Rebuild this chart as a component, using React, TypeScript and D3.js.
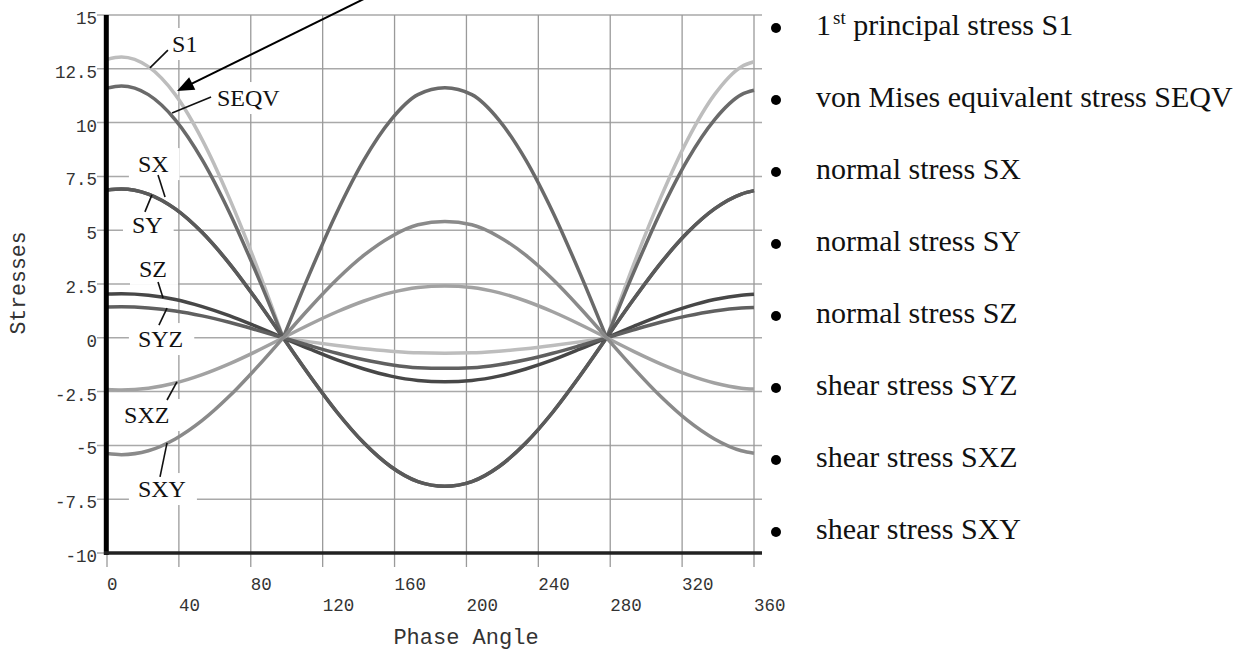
import React, { useEffect, useRef } from "react";
import * as d3 from "d3";

// phase angle samples (deg)
const phaseAngles = [0, 8, 23, 38, 53, 68, 83, 98, 113, 128, 143, 158, 173, 188, 203, 218, 233, 248, 263, 278, 293, 308, 323, 338, 353, 360];

const s1 = [12.94, 13.05, 12.6, 11.3, 9.2, 6.5, 3.4, 0, -0.19, -0.36, -0.51, -0.62, -0.7, -0.72, -0.7, -0.62, -0.51, -0.36, -0.19, 0, 3.4, 6.5, 9.2, 11.3, 12.6, 12.83];
const seqv = [11.6, 11.7, 11.3, 10.13, 8.27, 5.85, 3.03, 0, 3.03, 5.85, 8.27, 10.13, 11.3, 11.62, 11.3, 10.13, 8.27, 5.85, 3.03, 0, 3.03, 5.85, 8.27, 10.13, 11.3, 11.5];
const sx = [6.87, 6.92, 6.68, 5.99, 4.89, 3.46, 1.79, 0, -1.79, -3.46, -4.89, -5.99, -6.68, -6.9, -6.68, -5.99, -4.89, -3.46, -1.79, 0, 1.79, 3.46, 4.89, 5.99, 6.68, 6.84];
const sy = [6.87, 6.92, 6.68, 5.99, 4.89, 3.46, 1.79, 0, -1.79, -3.46, -4.89, -5.99, -6.68, -6.9, -6.68, -5.99, -4.89, -3.46, -1.79, 0, 1.79, 3.46, 4.89, 5.99, 6.68, 6.84];
const sz = [2.03, 2.05, 1.98, 1.78, 1.45, 1.03, 0.53, 0, -0.53, -1.03, -1.45, -1.78, -1.98, -2.04, -1.98, -1.78, -1.45, -1.03, -0.53, 0, 0.53, 1.03, 1.45, 1.78, 1.98, 2.02];
const syz = [1.43, 1.44, 1.39, 1.25, 1.02, 0.72, 0.37, 0, -0.37, -0.72, -1.02, -1.25, -1.39, -1.42, -1.39, -1.25, -1.02, -0.72, -0.37, 0, 0.37, 0.72, 1.02, 1.25, 1.39, 1.41];
const sxz = [-2.4, -2.42, -2.34, -2.1, -1.71, -1.21, -0.63, 0, 0.63, 1.21, 1.71, 2.1, 2.34, 2.41, 2.34, 2.1, 1.71, 1.21, 0.63, 0, -0.63, -1.21, -1.71, -2.1, -2.34, -2.38];
const sxy = [-5.38, -5.43, -5.25, -4.7, -3.84, -2.72, -1.41, 0, 1.41, 2.72, 3.84, 4.7, 5.25, 5.4, 5.25, 4.7, 3.84, 2.72, 1.41, 0, -1.41, -2.72, -3.84, -4.7, -5.25, -5.36];

const seriesNames = ["S1", "SEQV", "SX", "SY", "SZ", "SYZ", "SXZ", "SXY"];
const seriesValues = [s1, seqv, sx, sy, sz, syz, sxz, sxy];

const yTicks = [15, 12.5, 10, 7.5, 5, 2.5, 0, -2.5, -5, -7.5, -10];
const xTicks = [0, 40, 80, 120, 160, 200, 240, 280, 320, 360];

const legendLabels = [
  "principal stress S1",
  "von Mises equivalent stress SEQV",
  "normal stress SX",
  "normal stress SY",
  "normal stress SZ",
  "shear stress SYZ",
  "shear stress SXZ",
  "shear stress SXY",
];

const App = () => {
  const svgRef = useRef<SVGSVGElement>(null);

  useEffect(() => {
    const svg = d3.select(svgRef.current);
    svg.selectAll("*").remove();

    const left = 107, right = 754, top = 15, bottom = 553;
    const xScale = d3.scaleLinear().domain([0, 360]).range([left, right]);
    const yScale = d3.scaleLinear().domain([-10, 15]).range([bottom, top]);

    const colors: Record<string, string> = {
      S1: "#bdbdbd",
      SEQV: "#6a6a6a",
      SX: "#5a5a5a",
      SY: "#5a5a5a",
      SZ: "#474747",
      SYZ: "#606060",
      SXZ: "#a2a2a2",
      SXY: "#8a8a8a",
    };

    const monoFont = "'Liberation Mono', 'DejaVu Sans Mono', monospace";
    const serifFont = "'Liberation Serif', 'DejaVu Serif', serif";

    const gGrid = svg.append("g");
    const gBoxes = svg.append("g");
    const gCurves = svg.append("g");
    const gNotes = svg.append("g");
    const gAxes = svg.append("g");

    // grid lines
    gGrid.selectAll("line.h").data(yTicks).join("line")
      .attr("class", "h")
      .attr("x1", left - 10).attr("x2", right + 8)
      .attr("y1", (d) => yScale(d)).attr("y2", (d) => yScale(d))
      .attr("stroke", "#a9a9a9").attr("stroke-width", 1.5);
    gGrid.selectAll("line.v").data(xTicks).join("line")
      .attr("class", "v")
      .attr("x1", (d) => xScale(d)).attr("x2", (d) => xScale(d))
      .attr("y1", top).attr("y2", bottom + 14)
      .attr("stroke", "#9a9a9a").attr("stroke-width", 1.3);

    // tick labels
    gAxes.selectAll("text.yt").data(yTicks).join("text")
      .attr("class", "yt")
      .attr("x", 97).attr("y", (d) => yScale(d) + 9)
      .attr("text-anchor", "end")
      .style("font-family", monoFont).style("font-size", "17.5px")
      .attr("fill", "#333")
      .text((d) => String(d));
    gAxes.selectAll("text.xt").data(xTicks).join("text")
      .attr("class", "xt")
      .attr("x", (d) => xScale(d)).attr("y", (d, i) => (i % 2 === 0 ? 590 : 611))
      .style("font-family", monoFont).style("font-size", "17.5px")
      .attr("fill", "#333")
      .text((d) => String(d));

    // axis titles
    gAxes.append("text")
      .attr("x", 466).attr("y", 644)
      .attr("text-anchor", "middle")
      .style("font-family", monoFont).style("font-size", "22px")
      .attr("fill", "#333")
      .text("Phase Angle");
    gAxes.append("text")
      .attr("transform", "translate(25,283) rotate(-90)")
      .attr("text-anchor", "middle")
      .style("font-family", monoFont).style("font-size", "21.5px")
      .attr("fill", "#333")
      .text("Stresses");

    // curves - split at the two nodal points where every stress is zero
    const line = d3.line<[number, number]>()
      .x((d) => xScale(d[0]))
      .y((d) => yScale(d[1]))
      .curve(d3.curveMonotoneX);
    const nodes = phaseAngles
      .map((a, i) => i)
      .filter((i) => i > 0 && i < phaseAngles.length - 1 && seriesValues.every((v) => v[i] === 0));
    const cuts = [0, ...nodes, phaseAngles.length - 1];

    seriesNames.forEach((name, k) => {
      const pts: [number, number][] = phaseAngles.map((a, i) => [a, seriesValues[k][i]]);
      const pieces = d3.pairs(cuts).map(([a, b]) => pts.slice(a, b + 1));
      gCurves.append("path")
        .attr("d", pieces.map((p) => line(p)).join(""))
        .attr("fill", "none")
        .attr("stroke", colors[name])
        .attr("stroke-width", 3.5)
        .attr("stroke-linejoin", "round");
    });

    // axes lines
    gAxes.append("line")
      .attr("x1", left - 0.7).attr("x2", left - 0.7)
      .attr("y1", top).attr("y2", bottom + 2)
      .attr("stroke", "#000").attr("stroke-width", 5);
    gAxes.append("line")
      .attr("x1", left - 3).attr("x2", right + 8)
      .attr("y1", bottom).attr("y2", bottom)
      .attr("stroke", "#222").attr("stroke-width", 3.5);

    // curve labels with leader lines (data coordinates)
    const notes = [
      { text: "S1", tx: 36.2, ty: 13.28, l: [33.9, 13.37, 23.9, 12.54] },
      { text: "SEQV", tx: 61.2, ty: 10.77, l: [57.9, 11.19, 36.2, 10.45] },
      { text: "SX", tx: 17.2, ty: 7.7, l: [28.4, 7.57, 32.3, 6.54] },
      { text: "SY", tx: 13.9, ty: 4.87, l: [21.1, 5.85, 25.0, 6.64] },
      { text: "SZ", tx: 17.8, ty: 2.83, l: [28.4, 2.59, 31.2, 1.85] },
      { text: "SYZ", tx: 17.2, ty: -0.43, l: [28.9, 0.59, 33.4, 1.38] },
      { text: "SXZ", tx: 9.5, ty: -3.96, l: [33.4, -2.89, 38.9, -2.05] },
      { text: "SXY", tx: 17.2, ty: -7.4, l: [29.5, -6.46, 33.4, -4.88] },
    ];

    notes.forEach((n) => {
      const t = gNotes.append("text")
        .attr("x", xScale(n.tx)).attr("y", yScale(n.ty))
        .style("font-family", serifFont).style("font-size", "24px")
        .attr("fill", "#111")
        .text(n.text);
      const bb = (t.node() as SVGTextElement).getBBox();
      gBoxes.append("rect")
        .attr("x", bb.x - 9).attr("y", bb.y - 3)
        .attr("width", bb.width + 20).attr("height", bb.height + 6)
        .attr("fill", "#fff");
      gNotes.append("line")
        .attr("x1", xScale(n.l[0])).attr("y1", yScale(n.l[1]))
        .attr("x2", xScale(n.l[2])).attr("y2", yScale(n.l[3]))
        .attr("stroke", "#111").attr("stroke-width", 1.6);
    });

    // arrow pointing at the S1 / SEQV pair
    const tipX = xScale(38.95), tipY = yScale(11.47);
    const endX = xScale(154), endY = yScale(16.2);
    const len = Math.hypot(endX - tipX, endY - tipY);
    const ux = (endX - tipX) / len, uy = (endY - tipY) / len;
    gNotes.append("line")
      .attr("x1", tipX + ux * 12).attr("y1", tipY + uy * 12)
      .attr("x2", endX).attr("y2", endY)
      .attr("stroke", "#000").attr("stroke-width", 2);
    const hl = 17, hw = 7;
    const bx = tipX + ux * hl, by = tipY + uy * hl;
    gNotes.append("polygon")
      .attr("points", [
        [tipX, tipY],
        [bx - uy * hw, by + ux * hw],
        [bx + uy * hw, by - ux * hw],
      ].map((p) => p.join(",")).join(" "))
      .attr("fill", "#000");

    // legend on the right
    const legend = svg.append("g");
    const rowY = (i: number) => 35 + i * 72;
    legend.selectAll("circle").data(legendLabels).join("circle")
      .attr("cx", 776).attr("cy", (d, i) => rowY(i) - 7)
      .attr("r", 5).attr("fill", "#000");
    legendLabels.forEach((label, i) => {
      const t = legend.append("text")
        .attr("x", 816).attr("y", rowY(i))
        .style("font-family", serifFont).style("font-size", "30px")
        .attr("fill", "#111");
      if (i === 0) {
        t.append("tspan").text("1");
        t.append("tspan").attr("dx", 2).attr("dy", -11).style("font-size", "19px").text("st");
        t.append("tspan").attr("dy", 11).text(" " + label);
      } else {
        t.text(label);
      }
    });
  }, []);

  return (
    <svg
      ref={svgRef}
      width={1240}
      height={650}
      style={{ position: "absolute", left: 0, top: 0, background: "#fff" }}
    />
  );
};

export default App;
